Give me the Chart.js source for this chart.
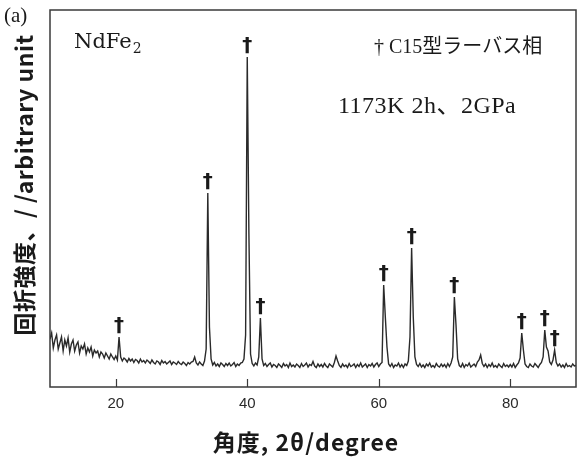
<!DOCTYPE html>
<html>
<head>
<meta charset="utf-8">
<script src="https://cdn.jsdelivr.net/npm/chart.js@4"></script>
<style>
  html, body { margin: 0; padding: 0; background: #fff; }
  canvas { display: block; }
</style>
</head>
<body>
<canvas id="xrd-chart" width="577" height="459"></canvas>
<script>
// NdFe2 diffraction pattern, intensity sampled every 0.25 deg from 10 to 90
const angleStart = 10;
const angleStep = 0.25;
const intensity = [
  // 10 - 14.75
  480, 540, 390, 470, 520, 380, 440, 500, 360, 470, 410, 490, 350, 430, 470, 360, 420, 450, 340, 410,
  // 15 - 19.75
  380, 430, 330, 390, 350, 400, 310, 370, 340, 360, 300, 350, 330, 290, 340, 310, 280, 330, 300, 275,
  // 20 - 24.75
  310, 270, 500, 300, 260, 290, 275, 250, 285, 260, 280, 245, 275, 265, 240, 280, 250, 265, 240, 270,
  // 25 - 29.75
  255, 235, 270, 245, 230, 260, 250, 225, 265, 240, 255, 230, 245, 260, 225, 250, 240, 225, 255, 235,
  // 30 - 34.75
  225, 250, 235, 215, 245, 230, 250, 255, 300, 240, 220, 250, 230, 215, 260, 380, 1940, 600, 280, 220,
  // 35 - 39.75
  245, 210, 230, 205, 240, 225, 205, 235, 215, 240, 210, 225, 245, 205, 230, 215, 240, 245, 280, 520,
  // 40 - 44.75
  3300, 1540, 330, 235, 210, 240, 220, 300, 690, 280, 215, 235, 205, 225, 240, 200, 225, 215, 195, 230,
  // 45 - 49.75
  215, 195, 235, 210, 225, 195, 240, 205, 220, 200, 230, 215, 195, 235, 205, 220, 240, 200, 225, 215,
  // 50 - 54.75
  255, 210, 195, 230, 205, 225, 200, 235, 210, 195, 230, 215, 200, 245, 310, 260, 215, 195, 230, 205,
  // 55 - 59.75
  220, 195, 235, 205, 215, 230, 195, 225, 205, 240, 200, 215, 230, 195, 225, 210, 235, 200, 225, 240,
  // 60 - 64.75
  205, 230, 245, 1020, 700, 400, 230, 205, 235, 195, 220, 210, 240, 200, 225, 195, 230, 215, 260, 500,
  // 65 - 69.75
  1390, 700, 300, 225, 205, 235, 200, 220, 195, 230, 210, 240, 200, 215, 195, 235, 210, 200, 230, 205,
  // 70 - 74.75
  225, 195, 235, 205, 240, 300, 900, 620, 280, 215, 200, 235, 195, 225, 210, 240, 200, 215, 230, 205,
  // 75 - 79.75
  250, 270, 320, 235, 205, 230, 195, 225, 205, 240, 200, 215, 195, 230, 210, 195, 235, 205, 220, 200,
  // 80 - 84.75
  225, 200, 235, 195, 220, 240, 290, 540, 370, 230, 205, 195, 230, 210, 200, 235, 215, 195, 225, 245,
  // 85 - 90
  300, 570, 400, 360, 250, 225, 270, 370, 245, 210, 230, 200, 220, 195, 235, 205, 215, 200, 230, 210,
  215,
];

// C15 Laves phase reflections marked with a dagger
const daggerAngles = [20.5, 34, 40, 42, 60.75, 65, 71.5, 81.75, 85.25, 86.75];

const xMin = 10;
const xMax = 90;
const xTicks = [20, 40, 60, 80];
const yMax = 3770;

const points = intensity.map((value, i) => ({ x: angleStart + i * angleStep, y: value }));

function valueAt(angle) {
  return intensity[Math.round((angle - angleStart) / angleStep)];
}

const INK = "#2a2a2a";

const decorations = {
  id: "decorations",
  afterDraw(chart) {
    const { ctx, chartArea: area, scales } = chart;
    const xs = scales.x;
    const ys = scales.y;
    ctx.save();

    // frame
    ctx.strokeStyle = "#3a3a3a";
    ctx.lineWidth = 1.5;
    ctx.strokeRect(area.left, area.top, area.right - area.left, area.bottom - area.top);

    // inward tick marks
    ctx.lineWidth = 1.2;
    ctx.beginPath();
    xTicks.forEach((t) => {
      const px = Math.round(xs.getPixelForValue(t)) + 0.5;
      ctx.moveTo(px, area.bottom);
      ctx.lineTo(px, area.bottom - 8);
    });
    ctx.stroke();

    // peak markers
    ctx.fillStyle = "#1a1a1a";
    ctx.textAlign = "center";
    ctx.textBaseline = "alphabetic";
    ctx.font = 'bold 20px "DejaVu Sans"';
    daggerAngles.forEach((a) => {
      const px = xs.getPixelForValue(a);
      const py = ys.getPixelForValue(valueAt(a));
      ctx.fillText("\u2020", px, py - 6);
    });

    // panel label and annotations
    ctx.fillStyle = "#1a1a1a";
    ctx.textAlign = "left";
    ctx.font = '21px "Liberation Serif"';
    ctx.fillText("(a)", 4, 22);

    ctx.font = '21px "DejaVu Serif"';
    ctx.fillText("NdFe", 74, 48);
    const w = ctx.measureText("NdFe").width;
    ctx.font = '14px "DejaVu Serif"';
    ctx.fillText("2", 74 + w + 1, 53);

    ctx.font = '20px "Liberation Serif", "Noto Sans CJK JP"';
    ctx.fillText("\u2020 C15型ラーバス相", 374, 53, 175);

    ctx.letterSpacing = "0.5px";
    ctx.font = '24px "Liberation Serif", "Noto Sans CJK JP"';
    ctx.fillText("1173K 2h、2GPa", 338, 113, 184);

    // axis titles
    ctx.textAlign = "center";
    ctx.letterSpacing = "1px";
    ctx.font = 'bold 23px "Noto Sans CJK JP"';
    ctx.fillText("角度, 2θ/degree", 306, 451, 190);

    ctx.letterSpacing = "0.5px";
    ctx.translate(24, 185);
    ctx.rotate(-Math.PI / 2);
    ctx.textBaseline = "middle";
    ctx.font = 'bold 23px "Noto Sans CJK JP"';
    ctx.fillText("回折強度、/ /arbitrary unit", 0, 0, 302);

    ctx.restore();
  },
};

new Chart(document.getElementById("xrd-chart"), {
  type: "line",
  data: {
    datasets: [
      {
        data: points,
        borderColor: INK,
        borderWidth: 1.4,
        pointRadius: 0,
        tension: 0,
        fill: false,
      },
    ],
  },
  options: {
    responsive: false,
    animation: false,
    devicePixelRatio: 1,
    layout: { padding: { left: 50, right: 1, top: 10, bottom: 0 } },
    plugins: { legend: { display: false }, tooltip: { enabled: false } },
    scales: {
      x: {
        type: "linear",
        min: xMin,
        max: xMax,
        grid: { display: false, drawTicks: false },
        border: { display: false },
        afterBuildTicks: (scale) => {
          scale.ticks = xTicks.map((v) => ({ value: v }));
        },
        afterFit: (scale) => {
          scale.height = 72;
        },
        ticks: {
          padding: 8,
          color: "#2a2a2a",
          font: { family: "Liberation Sans", size: 15 },
        },
      },
      y: {
        display: false,
        min: 0,
        max: yMax,
      },
    },
  },
  plugins: [decorations],
});
</script>
</body>
</html>
